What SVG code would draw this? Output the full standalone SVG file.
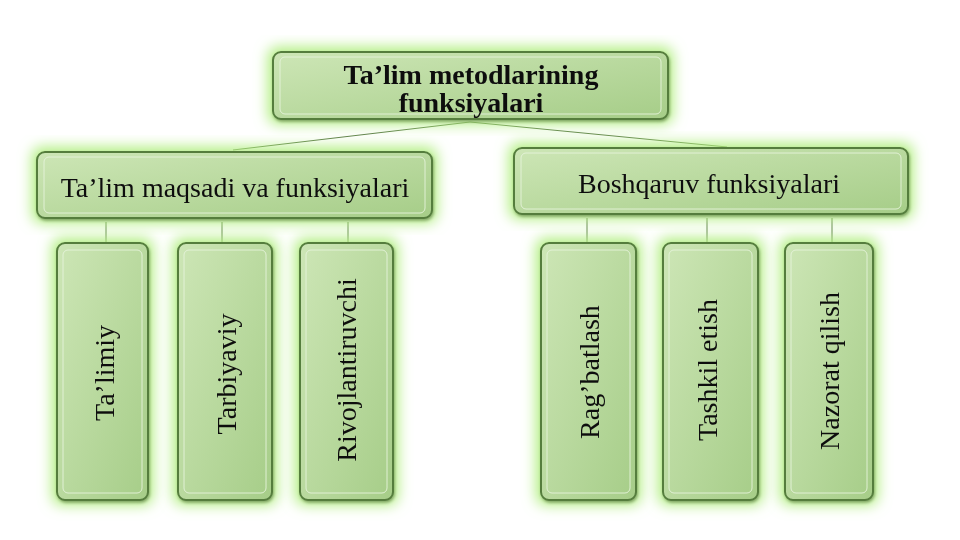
<svg xmlns="http://www.w3.org/2000/svg" width="960" height="540" viewBox="0 0 960 540">
<defs>
<linearGradient id="g" x1="0" y1="0" x2="1" y2="1">
<stop offset="0" stop-color="#cde6b6"/>
<stop offset="1" stop-color="#a6cd88"/>
</linearGradient>
<filter id="glow" x="-25%" y="-25%" width="150%" height="150%">
<feMorphology in="SourceAlpha" operator="dilate" radius="4" result="d"/>
<feGaussianBlur in="d" stdDeviation="7" result="b"/>
<feFlood flood-color="#b0ee7e" flood-opacity="1"/>
<feComposite in2="b" operator="in" result="gl"/>
<feGaussianBlur in="SourceAlpha" stdDeviation="1.5" result="s"/>
<feOffset in="s" dx="1" dy="2" result="so"/>
<feFlood flood-color="#2f4a1f" flood-opacity="0.6"/>
<feComposite in2="so" operator="in" result="sh"/>
<feMerge><feMergeNode in="gl"/><feMergeNode in="sh"/><feMergeNode in="SourceGraphic"/></feMerge>
</filter>
</defs>
<style>
.box{fill:url(#g);stroke:#557d3e;stroke-width:2}
.inner{fill:none;stroke:#e6f3da;stroke-width:1;opacity:0.9}
.t{font-family:"Liberation Serif","Times New Roman",serif;fill:#111;text-anchor:middle;font-size:28px}
.c{stroke:#5f7f4a;stroke-width:1;fill:none}
</style>
<rect width="960" height="540" fill="#fff"/>
<g id="connectors">
<line class="c" x1="470" y1="122" x2="233" y2="150"/>
<line class="c" x1="470" y1="122" x2="727" y2="147"/>
<line class="c" x1="106" y1="222" x2="106" y2="242"/>
<line class="c" x1="222" y1="222" x2="222" y2="242"/>
<line class="c" x1="348" y1="222" x2="348" y2="242"/>
<line class="c" x1="587" y1="218" x2="587" y2="242"/>
<line class="c" x1="707" y1="218" x2="707" y2="242"/>
<line class="c" x1="832" y1="218" x2="832" y2="242"/>
</g>
<g id="root" filter="url(#glow)">
<rect class="box" x="273" y="52" width="395" height="67" rx="8"/>
<rect class="inner" x="280" y="57" width="381" height="57" rx="5"/>
<text class="t" x="471" y="84" font-weight="bold">Ta’lim metodlarining</text>
<text class="t" x="471" y="112" font-weight="bold">funksiyalari</text>
</g>
<g id="left" filter="url(#glow)">
<rect class="box" x="37" y="152" width="395" height="66" rx="8"/>
<rect class="inner" x="44" y="157" width="381" height="56" rx="5"/>
<text class="t" x="235" y="197">Ta’lim maqsadi va funksiyalari</text>
</g>
<g id="right" filter="url(#glow)">
<rect class="box" x="514" y="148" width="394" height="66" rx="8"/>
<rect class="inner" x="521" y="153" width="380" height="56" rx="5"/>
<text class="t" x="709" y="193">Boshqaruv funksiyalari</text>
</g>
<g id="n1" filter="url(#glow)">
<rect class="box" x="57" y="243" width="91" height="257" rx="8"/>
<rect class="inner" x="63" y="250" width="79" height="243" rx="5"/>
<text class="t" transform="translate(114,373) rotate(-90)">Ta’limiy</text>
</g>
<g id="n2" filter="url(#glow)">
<rect class="box" x="178" y="243" width="94" height="257" rx="8"/>
<rect class="inner" x="184" y="250" width="82" height="243" rx="5"/>
<text class="t" transform="translate(236,374) rotate(-90)">Tarbiyaviy</text>
</g>
<g id="n3" filter="url(#glow)">
<rect class="box" x="300" y="243" width="93" height="257" rx="8"/>
<rect class="inner" x="306" y="250" width="81" height="243" rx="5"/>
<text class="t" transform="translate(356,370) rotate(-90)">Rivojlantiruvchi</text>
</g>
<g id="n4" filter="url(#glow)">
<rect class="box" x="541" y="243" width="95" height="257" rx="8"/>
<rect class="inner" x="547" y="250" width="83" height="243" rx="5"/>
<text class="t" transform="translate(599,372) rotate(-90)">Rag’batlash</text>
</g>
<g id="n5" filter="url(#glow)">
<rect class="box" x="663" y="243" width="95" height="257" rx="8"/>
<rect class="inner" x="669" y="250" width="83" height="243" rx="5"/>
<text class="t" transform="translate(717,370) rotate(-90)">Tashkil etish</text>
</g>
<g id="n6" filter="url(#glow)">
<rect class="box" x="785" y="243" width="88" height="257" rx="8"/>
<rect class="inner" x="791" y="250" width="76" height="243" rx="5"/>
<text class="t" transform="translate(839,371) rotate(-90)">Nazorat qilish</text>
</g>
</svg>
